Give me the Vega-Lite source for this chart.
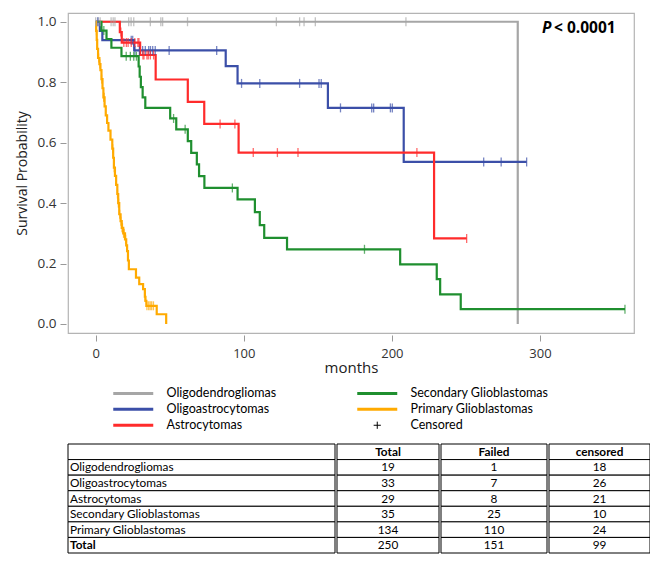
{
  "$schema": "https://vega.github.io/schema/vega-lite/v6.json",
  "padding": {"left": 14, "top": 12, "right": 0, "bottom": 0},
  "config": {"view": {"stroke": null}, "font": "Open Sans"},
  "datasets": {
    "curves": [
      {"group": "Oligodendrogliomas", "month": 0, "surv": 1},
      {"group": "Oligodendrogliomas", "month": 285, "surv": 0},
      {"group": "Oligoastrocytomas", "month": 0, "surv": 1},
      {"group": "Oligoastrocytomas", "month": 2.8, "surv": 0.97},
      {"group": "Oligoastrocytomas", "month": 4.5, "surv": 0.939},
      {"group": "Oligoastrocytomas", "month": 26, "surv": 0.905},
      {"group": "Oligoastrocytomas", "month": 87.8, "surv": 0.853},
      {"group": "Oligoastrocytomas", "month": 95.8, "surv": 0.796},
      {"group": "Oligoastrocytomas", "month": 156.8, "surv": 0.715},
      {"group": "Oligoastrocytomas", "month": 208, "surv": 0.536},
      {"group": "Oligoastrocytomas", "month": 291, "surv": 0.536},
      {"group": "Astrocytomas", "month": 0, "surv": 1},
      {"group": "Astrocytomas", "month": 16.3, "surv": 0.966},
      {"group": "Astrocytomas", "month": 17.6, "surv": 0.931},
      {"group": "Astrocytomas", "month": 30, "surv": 0.89},
      {"group": "Astrocytomas", "month": 40.5, "surv": 0.809},
      {"group": "Astrocytomas", "month": 62.2, "surv": 0.735},
      {"group": "Astrocytomas", "month": 73.3, "surv": 0.662},
      {"group": "Astrocytomas", "month": 96.5, "surv": 0.567},
      {"group": "Astrocytomas", "month": 228.5, "surv": 0.283},
      {"group": "Astrocytomas", "month": 250.5, "surv": 0.283},
      {"group": "Secondary Glioblastomas", "month": 0, "surv": 1},
      {"group": "Secondary Glioblastomas", "month": 3.9, "surv": 0.971},
      {"group": "Secondary Glioblastomas", "month": 7.3, "surv": 0.943},
      {"group": "Secondary Glioblastomas", "month": 10.6, "surv": 0.914},
      {"group": "Secondary Glioblastomas", "month": 17.4, "surv": 0.886},
      {"group": "Secondary Glioblastomas", "month": 29, "surv": 0.852},
      {"group": "Secondary Glioblastomas", "month": 29.7, "surv": 0.818},
      {"group": "Secondary Glioblastomas", "month": 30.5, "surv": 0.784},
      {"group": "Secondary Glioblastomas", "month": 31.7, "surv": 0.75},
      {"group": "Secondary Glioblastomas", "month": 33.5, "surv": 0.715},
      {"group": "Secondary Glioblastomas", "month": 50.3, "surv": 0.68},
      {"group": "Secondary Glioblastomas", "month": 54.4, "surv": 0.644},
      {"group": "Secondary Glioblastomas", "month": 62.2, "surv": 0.605},
      {"group": "Secondary Glioblastomas", "month": 64.5, "surv": 0.566},
      {"group": "Secondary Glioblastomas", "month": 68.3, "surv": 0.528},
      {"group": "Secondary Glioblastomas", "month": 69.8, "surv": 0.489},
      {"group": "Secondary Glioblastomas", "month": 73.4, "surv": 0.45},
      {"group": "Secondary Glioblastomas", "month": 95.8, "surv": 0.412},
      {"group": "Secondary Glioblastomas", "month": 107.5, "surv": 0.37},
      {"group": "Secondary Glioblastomas", "month": 110.8, "surv": 0.327},
      {"group": "Secondary Glioblastomas", "month": 113.8, "surv": 0.285},
      {"group": "Secondary Glioblastomas", "month": 129.2, "surv": 0.247},
      {"group": "Secondary Glioblastomas", "month": 205.6, "surv": 0.197},
      {"group": "Secondary Glioblastomas", "month": 230.3, "surv": 0.148},
      {"group": "Secondary Glioblastomas", "month": 232.6, "surv": 0.098},
      {"group": "Secondary Glioblastomas", "month": 246.5, "surv": 0.049},
      {"group": "Secondary Glioblastomas", "month": 357.4, "surv": 0.049},
      {"group": "Primary Glioblastomas", "month": 0, "surv": 1},
      {"group": "Primary Glioblastomas", "month": 0.3, "surv": 0.97},
      {"group": "Primary Glioblastomas", "month": 0.7, "surv": 0.94},
      {"group": "Primary Glioblastomas", "month": 1.0, "surv": 0.91},
      {"group": "Primary Glioblastomas", "month": 1.6, "surv": 0.88},
      {"group": "Primary Glioblastomas", "month": 2.5, "surv": 0.86},
      {"group": "Primary Glioblastomas", "month": 3.2, "surv": 0.84},
      {"group": "Primary Glioblastomas", "month": 3.9, "surv": 0.81},
      {"group": "Primary Glioblastomas", "month": 4.6, "surv": 0.78},
      {"group": "Primary Glioblastomas", "month": 5.2, "surv": 0.75},
      {"group": "Primary Glioblastomas", "month": 6.0, "surv": 0.72},
      {"group": "Primary Glioblastomas", "month": 6.8, "surv": 0.69},
      {"group": "Primary Glioblastomas", "month": 7.7, "surv": 0.665},
      {"group": "Primary Glioblastomas", "month": 8.6, "surv": 0.64},
      {"group": "Primary Glioblastomas", "month": 10.0, "surv": 0.61},
      {"group": "Primary Glioblastomas", "month": 11.2, "surv": 0.58},
      {"group": "Primary Glioblastomas", "month": 11.8, "surv": 0.55},
      {"group": "Primary Glioblastomas", "month": 12.3, "surv": 0.517},
      {"group": "Primary Glioblastomas", "month": 13.0, "surv": 0.49},
      {"group": "Primary Glioblastomas", "month": 13.8, "surv": 0.46},
      {"group": "Primary Glioblastomas", "month": 14.6, "surv": 0.43},
      {"group": "Primary Glioblastomas", "month": 15.2, "surv": 0.4},
      {"group": "Primary Glioblastomas", "month": 15.9, "surv": 0.363},
      {"group": "Primary Glioblastomas", "month": 16.8, "surv": 0.34},
      {"group": "Primary Glioblastomas", "month": 17.6, "surv": 0.318},
      {"group": "Primary Glioblastomas", "month": 18.6, "surv": 0.3},
      {"group": "Primary Glioblastomas", "month": 19.8, "surv": 0.28},
      {"group": "Primary Glioblastomas", "month": 20.6, "surv": 0.26},
      {"group": "Primary Glioblastomas", "month": 21.2, "surv": 0.241},
      {"group": "Primary Glioblastomas", "month": 21.8, "surv": 0.21},
      {"group": "Primary Glioblastomas", "month": 22.4, "surv": 0.181},
      {"group": "Primary Glioblastomas", "month": 27.2, "surv": 0.153},
      {"group": "Primary Glioblastomas", "month": 29.4, "surv": 0.132},
      {"group": "Primary Glioblastomas", "month": 32.0, "surv": 0.115},
      {"group": "Primary Glioblastomas", "month": 33.2, "surv": 0.09},
      {"group": "Primary Glioblastomas", "month": 33.6, "surv": 0.076},
      {"group": "Primary Glioblastomas", "month": 34.2, "surv": 0.06},
      {"group": "Primary Glioblastomas", "month": 41.2, "surv": 0.032},
      {"group": "Primary Glioblastomas", "month": 47.6, "surv": 0.0}
    ],
    "censors": [
      {"group": "Oligodendrogliomas", "month": 0, "surv": 1},
      {"group": "Oligodendrogliomas", "month": 1.5, "surv": 1},
      {"group": "Oligodendrogliomas", "month": 3, "surv": 1},
      {"group": "Oligodendrogliomas", "month": 10.4, "surv": 1},
      {"group": "Oligodendrogliomas", "month": 11.8, "surv": 1},
      {"group": "Oligodendrogliomas", "month": 13, "surv": 1},
      {"group": "Oligodendrogliomas", "month": 22.3, "surv": 1},
      {"group": "Oligodendrogliomas", "month": 23.9, "surv": 1},
      {"group": "Oligodendrogliomas", "month": 25.7, "surv": 1},
      {"group": "Oligodendrogliomas", "month": 36.9, "surv": 1},
      {"group": "Oligodendrogliomas", "month": 44, "surv": 1},
      {"group": "Oligodendrogliomas", "month": 45.2, "surv": 1},
      {"group": "Oligodendrogliomas", "month": 62, "surv": 1},
      {"group": "Oligodendrogliomas", "month": 122, "surv": 1},
      {"group": "Oligodendrogliomas", "month": 137.7, "surv": 1},
      {"group": "Oligodendrogliomas", "month": 140.7, "surv": 1},
      {"group": "Oligodendrogliomas", "month": 148.3, "surv": 1},
      {"group": "Oligodendrogliomas", "month": 209.5, "surv": 1},
      {"group": "Oligoastrocytomas", "month": 1.5, "surv": 1},
      {"group": "Oligoastrocytomas", "month": 24, "surv": 0.939},
      {"group": "Oligoastrocytomas", "month": 25, "surv": 0.939},
      {"group": "Oligoastrocytomas", "month": 26.5, "surv": 0.905},
      {"group": "Oligoastrocytomas", "month": 29.5, "surv": 0.905},
      {"group": "Oligoastrocytomas", "month": 31.7, "surv": 0.905},
      {"group": "Oligoastrocytomas", "month": 33.5, "surv": 0.905},
      {"group": "Oligoastrocytomas", "month": 35.8, "surv": 0.905},
      {"group": "Oligoastrocytomas", "month": 37, "surv": 0.905},
      {"group": "Oligoastrocytomas", "month": 38.5, "surv": 0.905},
      {"group": "Oligoastrocytomas", "month": 40.2, "surv": 0.905},
      {"group": "Oligoastrocytomas", "month": 49.6, "surv": 0.905},
      {"group": "Oligoastrocytomas", "month": 81.7, "surv": 0.905},
      {"group": "Oligoastrocytomas", "month": 98.5, "surv": 0.796},
      {"group": "Oligoastrocytomas", "month": 110.8, "surv": 0.796},
      {"group": "Oligoastrocytomas", "month": 137.7, "surv": 0.796},
      {"group": "Oligoastrocytomas", "month": 150.8, "surv": 0.796},
      {"group": "Oligoastrocytomas", "month": 152.3, "surv": 0.796},
      {"group": "Oligoastrocytomas", "month": 165.3, "surv": 0.715},
      {"group": "Oligoastrocytomas", "month": 186.4, "surv": 0.715},
      {"group": "Oligoastrocytomas", "month": 187.7, "surv": 0.715},
      {"group": "Oligoastrocytomas", "month": 199, "surv": 0.715},
      {"group": "Oligoastrocytomas", "month": 200.3, "surv": 0.715},
      {"group": "Oligoastrocytomas", "month": 262, "surv": 0.536},
      {"group": "Oligoastrocytomas", "month": 273.8, "surv": 0.536},
      {"group": "Oligoastrocytomas", "month": 291, "surv": 0.536},
      {"group": "Astrocytomas", "month": 17, "surv": 0.966},
      {"group": "Astrocytomas", "month": 19, "surv": 0.931},
      {"group": "Astrocytomas", "month": 20.7, "surv": 0.931},
      {"group": "Astrocytomas", "month": 21.9, "surv": 0.931},
      {"group": "Astrocytomas", "month": 24, "surv": 0.931},
      {"group": "Astrocytomas", "month": 26.4, "surv": 0.931},
      {"group": "Astrocytomas", "month": 28.5, "surv": 0.931},
      {"group": "Astrocytomas", "month": 29.2, "surv": 0.931},
      {"group": "Astrocytomas", "month": 31.9, "surv": 0.89},
      {"group": "Astrocytomas", "month": 32.6, "surv": 0.89},
      {"group": "Astrocytomas", "month": 34.6, "surv": 0.89},
      {"group": "Astrocytomas", "month": 35.5, "surv": 0.89},
      {"group": "Astrocytomas", "month": 36.9, "surv": 0.89},
      {"group": "Astrocytomas", "month": 39.1, "surv": 0.89},
      {"group": "Astrocytomas", "month": 84, "surv": 0.662},
      {"group": "Astrocytomas", "month": 94, "surv": 0.662},
      {"group": "Astrocytomas", "month": 106.4, "surv": 0.567},
      {"group": "Astrocytomas", "month": 122.7, "surv": 0.567},
      {"group": "Astrocytomas", "month": 136.6, "surv": 0.567},
      {"group": "Astrocytomas", "month": 216.9, "surv": 0.567},
      {"group": "Astrocytomas", "month": 250.5, "surv": 0.283},
      {"group": "Secondary Glioblastomas", "month": 5.5, "surv": 0.971},
      {"group": "Secondary Glioblastomas", "month": 20.6, "surv": 0.886},
      {"group": "Secondary Glioblastomas", "month": 23.4, "surv": 0.886},
      {"group": "Secondary Glioblastomas", "month": 25.7, "surv": 0.886},
      {"group": "Secondary Glioblastomas", "month": 27.5, "surv": 0.886},
      {"group": "Secondary Glioblastomas", "month": 52.6, "surv": 0.68},
      {"group": "Secondary Glioblastomas", "month": 60.4, "surv": 0.644},
      {"group": "Secondary Glioblastomas", "month": 92.3, "surv": 0.45},
      {"group": "Secondary Glioblastomas", "month": 181.5, "surv": 0.247},
      {"group": "Secondary Glioblastomas", "month": 357.4, "surv": 0.049},
      {"group": "Primary Glioblastomas", "month": 0.5, "surv": 0.97},
      {"group": "Primary Glioblastomas", "month": 2.0, "surv": 0.88},
      {"group": "Primary Glioblastomas", "month": 2.8, "surv": 0.86},
      {"group": "Primary Glioblastomas", "month": 4.0, "surv": 0.81},
      {"group": "Primary Glioblastomas", "month": 5.4, "surv": 0.75},
      {"group": "Primary Glioblastomas", "month": 5.7, "surv": 0.75},
      {"group": "Primary Glioblastomas", "month": 11.5, "surv": 0.58},
      {"group": "Primary Glioblastomas", "month": 12.5, "surv": 0.517},
      {"group": "Primary Glioblastomas", "month": 14.7, "surv": 0.43},
      {"group": "Primary Glioblastomas", "month": 15.3, "surv": 0.4},
      {"group": "Primary Glioblastomas", "month": 15.5, "surv": 0.4},
      {"group": "Primary Glioblastomas", "month": 16.2, "surv": 0.363},
      {"group": "Primary Glioblastomas", "month": 17.0, "surv": 0.34},
      {"group": "Primary Glioblastomas", "month": 17.8, "surv": 0.318},
      {"group": "Primary Glioblastomas", "month": 18.1, "surv": 0.318},
      {"group": "Primary Glioblastomas", "month": 18.8, "surv": 0.3},
      {"group": "Primary Glioblastomas", "month": 19.2, "surv": 0.3},
      {"group": "Primary Glioblastomas", "month": 20.2, "surv": 0.28},
      {"group": "Primary Glioblastomas", "month": 33.4, "surv": 0.09},
      {"group": "Primary Glioblastomas", "month": 34.6, "surv": 0.06},
      {"group": "Primary Glioblastomas", "month": 35.8, "surv": 0.06},
      {"group": "Primary Glioblastomas", "month": 36.8, "surv": 0.06},
      {"group": "Primary Glioblastomas", "month": 37.8, "surv": 0.06},
      {"group": "Primary Glioblastomas", "month": 39.0, "surv": 0.06}
    ],
    "table": [
      {"name": "", "Total": "Total", "Failed": "Failed", "censored": "censored"},
      {"name": "Oligodendrogliomas", "Total": "19", "Failed": "1", "censored": "18"},
      {"name": "Oligoastrocytomas", "Total": "33", "Failed": "7", "censored": "26"},
      {"name": "Astrocytomas", "Total": "29", "Failed": "8", "censored": "21"},
      {"name": "Secondary Glioblastomas", "Total": "35", "Failed": "25", "censored": "10"},
      {"name": "Primary Glioblastomas", "Total": "134", "Failed": "110", "censored": "24"},
      {"name": "Total", "Total": "250", "Failed": "151", "censored": "99"}
    ]
  },
  "spacing": 67,
  "vconcat": [
    {
      "width": 566,
      "height": 320,
      "view": {"stroke": "#b4b4b4", "strokeWidth": 1.2},
      "layer": [
        {
          "data": {"name": "curves"},
          "mark": {"type": "line", "interpolate": "step-after", "strokeWidth": 2.2},
          "encoding": {
            "x": {"field": "month", "type": "quantitative",
              "scale": {"domain": [-18.7, 363.5], "nice": false, "zero": false},
              "axis": {"values": [0, 100, 200, 300], "title": "months", "grid": false, "domain": false,
                "tickSize": 6, "offset": 2, "tickColor": "#999999", "labelPadding": 6, "titlePadding": 0,
                "labelFontSize": 13, "titleFontSize": 15, "titleFontWeight": "normal",
                "labelColor": "#333333", "titleColor": "#222222", "labelFont": "Open Sans", "titleFont": "Open Sans"}},
            "y": {"field": "surv", "type": "quantitative",
              "scale": {"domain": [-0.03, 1.029], "nice": false, "zero": false},
              "axis": {"values": [0, 0.2, 0.4, 0.6, 0.8, 1], "format": ".1f", "title": "Survival Probability",
                "grid": false, "domain": false, "tickSize": 6, "offset": 2, "tickColor": "#999999",
                "labelPadding": 4, "titlePadding": 8, "labelFontSize": 13.5, "titleFontSize": 14,
                "titleFontWeight": "normal", "labelColor": "#333333", "titleColor": "#222222",
                "labelFont": "Open Sans", "titleFont": "Open Sans"}},
            "color": {"field": "group", "type": "nominal",
              "scale": {"domain": ["Oligodendrogliomas", "Oligoastrocytomas", "Astrocytomas", "Secondary Glioblastomas", "Primary Glioblastomas", "Censored"],
                "range": ["#a6a6a6", "#3b4fa8", "#ff2b2b", "#1f8f2f", "#ffaa00", "#000000"]},
              "legend": {"orient": "none", "legendX": 20, "legendY": 374, "columns": 2, "title": null,
                "padding": 0, "symbolSize": 64, "symbolStrokeWidth": 3, "symbolOffset": 39,
                "labelOffset": 27, "labelFont": "Lato", "labelFontSize": 12.5, "labelColor": "#000000",
                "columnPadding": 55, "rowPadding": 3,
                "encode": {"symbols": {"update": {
                  "shape": {"signal": "datum.value === 'Censored' ? 'M-0.9,0H0.9M0,-0.9V0.9' : 'M-5,0H5'"},
                  "strokeWidth": {"signal": "datum.value === 'Censored' ? 1 : 3"}}}}}}
          }
        },
        {
          "data": {"name": "censors"},
          "mark": {"type": "tick", "orient": "vertical", "size": 9, "thickness": 1.3},
          "encoding": {
            "x": {"field": "month", "type": "quantitative"},
            "y": {"field": "surv", "type": "quantitative"},
            "color": {"field": "group", "type": "nominal", "legend": null}
          }
        },
        {
          "data": {"values": [{"t": "P"}]},
          "mark": {"type": "text", "align": "left", "baseline": "middle", "fontWeight": "bold", "fontStyle": "italic", "fontSize": 15.5, "font": "Open Sans", "color": "#000000"},
          "encoding": {"x": {"datum": 301.4}, "y": {"datum": 0.978}, "text": {"field": "t"}}
        },
        {
          "data": {"values": [{"t": "< 0.0001"}]},
          "mark": {"type": "text", "align": "left", "baseline": "middle", "fontWeight": "bold", "fontSize": 15.5, "font": "Open Sans", "dx": 12, "color": "#000000"},
          "encoding": {"x": {"datum": 301.4}, "y": {"datum": 0.978}, "text": {"field": "t"}}
        }
      ]
    },
    {
      "spacing": 0,
      "hconcat": [
        {
          "width": 267, "height": 109,
          "data": {"name": "table"},
          "layer": [
            {"mark": {"type": "rect", "fill": "#ffffff", "stroke": "#000000", "strokeWidth": 1},
             "encoding": {"y": {"field": "name", "type": "nominal", "sort": ["", "Oligodendrogliomas", "Oligoastrocytomas", "Astrocytomas", "Secondary Glioblastomas", "Primary Glioblastomas", "Total"], "axis": null, "scale": {"paddingInner": 0, "paddingOuter": 0}}}},
            {"transform": [{"filter": "datum.name !== 'Total'"}],
             "mark": {"type": "text", "align": "left", "dx": 2, "font": "Lato", "fontSize": 11.8, "color": "#000000"},
             "encoding": {"x": {"value": 0}, "y": {"field": "name", "type": "nominal", "sort": ["", "Oligodendrogliomas", "Oligoastrocytomas", "Astrocytomas", "Secondary Glioblastomas", "Primary Glioblastomas", "Total"]}, "text": {"field": "name"}}},
            {"transform": [{"filter": "datum.name === 'Total'"}],
             "mark": {"type": "text", "align": "left", "dx": 2, "font": "Lato", "fontSize": 11.8, "fontWeight": "bold", "color": "#000000"},
             "encoding": {"x": {"value": 0}, "y": {"field": "name", "type": "nominal", "sort": ["", "Oligodendrogliomas", "Oligoastrocytomas", "Astrocytomas", "Secondary Glioblastomas", "Primary Glioblastomas", "Total"]}, "text": {"field": "name"}}}
          ]
        },
        {
          "width": 102, "height": 109,
          "data": {"name": "table"},
          "layer": [
            {"mark": {"type": "rect", "fill": "#ffffff", "stroke": "#000000", "strokeWidth": 1},
             "encoding": {"y": {"field": "name", "type": "nominal", "sort": ["", "Oligodendrogliomas", "Oligoastrocytomas", "Astrocytomas", "Secondary Glioblastomas", "Primary Glioblastomas", "Total"], "axis": null, "scale": {"paddingInner": 0, "paddingOuter": 0}}}},
            {"transform": [{"filter": "datum.name !== ''"}],
             "mark": {"type": "text", "font": "Lato", "fontSize": 11.8, "color": "#000000"},
             "encoding": {"y": {"field": "name", "type": "nominal", "sort": ["", "Oligodendrogliomas", "Oligoastrocytomas", "Astrocytomas", "Secondary Glioblastomas", "Primary Glioblastomas", "Total"]}, "text": {"field": "Total"}}},
            {"transform": [{"filter": "datum.name === ''"}],
             "mark": {"type": "text", "font": "Lato", "fontSize": 11.8, "fontWeight": "bold", "color": "#000000"},
             "encoding": {"y": {"field": "name", "type": "nominal", "sort": ["", "Oligodendrogliomas", "Oligoastrocytomas", "Astrocytomas", "Secondary Glioblastomas", "Primary Glioblastomas", "Total"]}, "text": {"field": "Total"}}}
          ]
        },
        {
          "width": 106, "height": 109,
          "data": {"name": "table"},
          "layer": [
            {"mark": {"type": "rect", "fill": "#ffffff", "stroke": "#000000", "strokeWidth": 1},
             "encoding": {"y": {"field": "name", "type": "nominal", "sort": ["", "Oligodendrogliomas", "Oligoastrocytomas", "Astrocytomas", "Secondary Glioblastomas", "Primary Glioblastomas", "Total"], "axis": null, "scale": {"paddingInner": 0, "paddingOuter": 0}}}},
            {"transform": [{"filter": "datum.name !== ''"}],
             "mark": {"type": "text", "font": "Lato", "fontSize": 11.8, "color": "#000000"},
             "encoding": {"y": {"field": "name", "type": "nominal", "sort": ["", "Oligodendrogliomas", "Oligoastrocytomas", "Astrocytomas", "Secondary Glioblastomas", "Primary Glioblastomas", "Total"]}, "text": {"field": "Failed"}}},
            {"transform": [{"filter": "datum.name === ''"}],
             "mark": {"type": "text", "font": "Lato", "fontSize": 11.8, "fontWeight": "bold", "color": "#000000"},
             "encoding": {"y": {"field": "name", "type": "nominal", "sort": ["", "Oligodendrogliomas", "Oligoastrocytomas", "Astrocytomas", "Secondary Glioblastomas", "Primary Glioblastomas", "Total"]}, "text": {"field": "Failed"}}}
          ]
        },
        {
          "width": 101, "height": 109,
          "data": {"name": "table"},
          "layer": [
            {"mark": {"type": "rect", "fill": "#ffffff", "stroke": "#000000", "strokeWidth": 1},
             "encoding": {"y": {"field": "name", "type": "nominal", "sort": ["", "Oligodendrogliomas", "Oligoastrocytomas", "Astrocytomas", "Secondary Glioblastomas", "Primary Glioblastomas", "Total"], "axis": null, "scale": {"paddingInner": 0, "paddingOuter": 0}}}},
            {"transform": [{"filter": "datum.name !== ''"}],
             "mark": {"type": "text", "font": "Lato", "fontSize": 11.8, "color": "#000000"},
             "encoding": {"y": {"field": "name", "type": "nominal", "sort": ["", "Oligodendrogliomas", "Oligoastrocytomas", "Astrocytomas", "Secondary Glioblastomas", "Primary Glioblastomas", "Total"]}, "text": {"field": "censored"}}},
            {"transform": [{"filter": "datum.name === ''"}],
             "mark": {"type": "text", "font": "Lato", "fontSize": 11.8, "fontWeight": "bold", "color": "#000000"},
             "encoding": {"y": {"field": "name", "type": "nominal", "sort": ["", "Oligodendrogliomas", "Oligoastrocytomas", "Astrocytomas", "Secondary Glioblastomas", "Primary Glioblastomas", "Total"]}, "text": {"field": "censored"}}}
          ]
        }
      ]
    }
  ]
}
